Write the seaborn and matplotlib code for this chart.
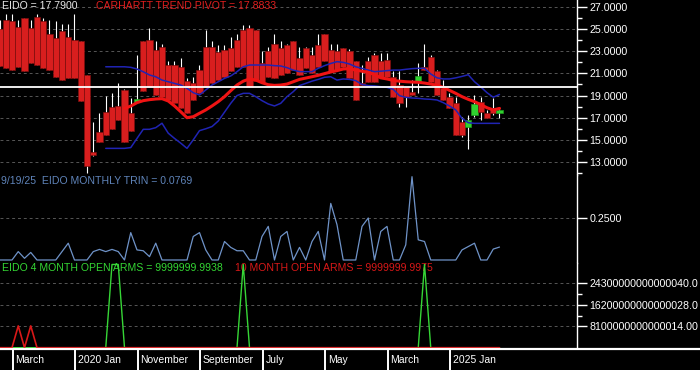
import matplotlib
matplotlib.use('Agg')
import matplotlib.pyplot as plt
import seaborn as sns

# monthly bars, month index 0 = Jan 2019 ... 80 = Sep 2025
months = list(range(81))
body_hi = [25.0, 25.8, 25.7, 25.2, 26.0, 25.1, 26.1, 25.7, 24.6, 24.2,
           24.8, 24.3, 24.0, 23.9, 20.9, 13.9, 15.7, 17.5, 18.0, 18.1,
           19.5, 17.4, 18.7, 23.9, 24.0, 23.1, 23.4, 21.8, 21.8, 21.6,
           20.3, 20.1, 21.3, 23.4, 23.4, 22.9, 23.1, 23.3, 24.0, 24.9,
           25.1, 24.9, 21.9, 23.0, 23.7, 23.3, 23.6, 23.9, 22.4, 23.3,
           22.7, 23.6, 24.6, 23.1, 23.0, 23.3, 23.0, 22.1, 20.1, 22.1,
           22.7, 22.1, 22.2, 20.7, 19.95, 19.8, 19.35, 20.8, 21.6, 22.5,
           21.2, 19.65, 18.9, 18.3, 16.65, 16.75, 18.2, 18.45, 17.4, 17.85,
           17.7]
body_lo = [21.7, 21.5, 21.3, 21.6, 21.2, 21.9, 21.8, 21.5, 21.3, 20.7,
           20.4, 20.6, 20.6, 18.5, 12.6, 13.6, 14.8, 15.4, 16.0, 16.8,
           14.8, 15.8, 18.45, 19.4, 19.8, 19.05, 18.9, 18.6, 18.3, 17.9,
           17.4, 18.6, 19.2, 19.8, 20.1, 20.4, 20.7, 21.2, 21.6, 21.6,
           19.8, 20.3, 20.25, 20.7, 20.6, 20.9, 21.0, 21.3, 20.9, 21.5,
           21.0, 21.6, 22.1, 21.2, 21.3, 21.6, 20.6, 18.6, 19.95, 20.25,
           20.25, 20.7, 20.7, 18.9, 18.3, 18.9, 19.05, 20.25, 21.3, 20.25,
           19.05, 18.6, 17.85, 15.45, 15.45, 16.2, 17.25, 17.55, 16.95, 17.4,
           17.4]
wick_hi = [25.8, 26.4, 26.4, 25.8, 26.0, 25.8, 26.4, 26.0, 25.8, 25.7,
           25.5, 25.5, 26.4, 23.9, 20.9, 16.6, 17.4, 19.0, 19.2, 20.1,
           19.6, 18.8, 22.7, 23.9, 25.1, 23.9, 23.7, 22.1, 22.1, 22.4,
           20.6, 20.7, 21.8, 24.9, 23.9, 23.6, 23.6, 24.3, 24.6, 25.4,
           25.4, 24.9, 23.0, 23.4, 24.6, 23.9, 23.7, 23.9, 23.4, 23.4,
           23.4, 24.6, 24.6, 23.7, 23.7, 23.3, 23.2, 22.1, 21.8, 22.5,
           22.8, 22.8, 22.8, 21.2, 21.2, 19.8, 20.4, 21.9, 23.7, 22.7,
           21.3, 20.4, 19.2, 18.9, 17.1, 17.25, 19.05, 18.9, 17.7, 18.75,
           17.95]
wick_lo = [21.7, 21.5, 21.3, 21.6, 21.2, 21.9, 21.8, 21.5, 21.3, 20.7,
           20.4, 20.6, 20.6, 18.5, 12.0, 13.5, 14.8, 15.4, 16.0, 16.8,
           14.8, 15.8, 18.45, 19.4, 19.8, 19.05, 18.9, 18.6, 18.3, 17.9,
           17.4, 18.6, 19.2, 19.8, 20.1, 20.4, 20.7, 21.2, 21.6, 21.6,
           19.8, 20.3, 20.25, 20.7, 20.6, 20.9, 21.0, 21.3, 20.9, 21.5,
           21.0, 21.6, 22.1, 21.2, 21.3, 21.6, 20.6, 18.6, 19.95, 20.25,
           20.25, 20.7, 20.7, 18.9, 18.0, 18.0, 19.05, 19.2, 21.3, 20.25,
           19.05, 18.6, 17.85, 15.45, 15.3, 14.2, 17.1, 16.8, 16.95, 17.25,
           16.95]
green_bars = [22, 67, 75, 76, 80]

band_months = list(range(17, 81))
upper_band = [21.6, 21.6, 21.6, 21.6, 21.55, 21.4, 21.15, 20.86, 20.7, 20.4,
              20.25, 20.1, 19.95, 19.65, 19.26, 19.05, 19.5, 19.95, 20.25, 20.55,
              20.77, 21.16, 21.6, 21.76, 21.76, 21.76, 21.76, 21.7, 21.67, 21.52,
              21.3, 21.16, 21.16, 21.16, 21.46, 21.7, 21.9, 22.06, 22.0, 21.85,
              21.6, 21.46, 21.3, 21.16, 21.2, 21.25, 21.3, 21.3, 21.37, 21.43,
              21.46, 21.46, 20.95, 20.6, 20.5, 20.5, 20.6, 20.73, 20.88, 20.25,
              19.78, 19.26, 18.85, 19.1]
lower_band = [14.23, 14.23, 14.23, 14.23, 14.3, 15.13, 15.95, 15.95, 16.1, 16.5,
              15.6, 15.13, 14.7, 14.23, 15.0, 15.83, 16.0, 16.2, 16.7, 17.5,
              18.3, 19.0, 19.2, 19.2, 18.9, 18.54, 18.24, 18.06, 18.3, 18.9,
              19.35, 19.9, 20.1, 20.3, 20.46, 20.65, 20.7, 20.4, 20.5, 20.46,
              20.35, 20.0, 19.9, 19.87, 19.8, 19.74, 19.56, 18.99, 18.84, 18.78,
              18.75, 18.69, 18.66, 18.6, 18.36, 18.06, 17.7, 16.94, 16.55, 16.49,
              16.49, 16.49, 16.49, 16.49]

pivot_months = list(range(20, 81))
trend_pivot = [17.84, 18.05, 18.36, 18.54, 18.63, 18.69, 18.72, 18.51, 18.06, 17.54,
               17.0, 17.09, 17.4, 17.7, 18.06, 18.45, 18.9, 19.44, 19.95, 20.3,
               20.5, 20.4, 20.16, 19.98, 19.92, 19.95, 20.04, 20.25, 20.46, 20.58,
               20.7, 20.83, 20.98, 21.13, 21.25, 21.4, 21.43, 21.3, 21.2, 21.1,
               20.89, 20.6, 20.5, 20.37, 20.3, 20.25, 20.22, 20.2, 20.13, 20.04,
               19.92, 19.74, 19.47, 19.2, 18.9, 18.66, 18.45, 18.18, 17.9, 17.7,
               17.84]
ref_level = 19.78

trin = [0, 0, 0, 0.05, 0.01, 0.045, 0, 0, 0, 0,
        0.05, 0.1, 0, 0, 0, 0.05, 0.063, 0.05, 0.063, 0.05,
        0, 0.163, 0.06, 0.055, 0.02, 0.1, 0, 0, 0, 0,
        0, 0.14, 0.163, 0.06, 0, 0, 0.11, 0.075, 0.055, 0.055,
        0, 0, 0.14, 0.2, 0, 0.14, 0.17, 0, 0.075, 0,
        0.11, 0.17, 0, 0.337, 0.21, 0, 0, 0, 0.2, 0.25,
        0, 0.17, 0.2, 0, 0, 0.09, 0.496, 0.12, 0.11, 0,
        0, 0, 0, 0, 0.06, 0.08, 0.1, 0, 0, 0.065,
        0.077]

open_arms_4 = [0.0] * 81
for m in [18, 19, 39, 68]:
    open_arms_4[m] = 3.145e16
open_arms_10 = [0.0] * 81
for m in [3, 5]:
    open_arms_10[m] = 8.25e15

price_ticks = [13, 15, 17, 19, 21, 23, 25, 27]
price_minor = [12, 14, 16, 18, 20, 22, 24, 26]
trin_ticks = [0.25]
arms_ticks = [8.1e15, 1.62e16, 2.43e16]
arms_labels = ['8100000000000014.00', '16200000000000028.0', '24300000000000040.0']
arms_minor = [1.215e16, 2.025e16]

x_labels = ['March', '2020 Jan', 'November', 'September', 'July', 'May', 'March', '2025 Jan']
x_label_months = [2, 12, 22, 32, 42, 52, 62, 72]

sns.set_theme(style='dark')
plt.rcParams['font.family'] = ['Liberation Sans', 'DejaVu Sans']

W, H = 700, 370
fig = plt.figure(figsize=(7, 3.7), dpi=100, facecolor='black')


def px_axes(top, bottom, left=0, right=577):
    return fig.add_axes([left / W, 1 - bottom / H, (right - left) / W, (bottom - top) / H])


ax_p = px_axes(0, 175)
ax_t = px_axes(175, 263)
ax_o = px_axes(263, 349)
ax_x = px_axes(349.3, 370, 0, 700)

grid_kw = dict(color='#565656', lw=0.7, ls=(0, (3, 3)), zorder=0.5)
for ax in (ax_p, ax_t, ax_o):
    ax.set_facecolor('black')
    ax.set_xlim(0.08, 92.4)
    ax.set_xticks([])
    ax.grid(False)
    for s in ('top', 'bottom', 'left'):
        ax.spines[s].set_visible(False)
    ax.spines['right'].set_color('white')
    ax.spines['right'].set_linewidth(1.0)
    ax.yaxis.tick_right()
    ax.tick_params(axis='y', which='major', colors='white', length=7.5, width=1,
                   pad=1.5, labelsize=7.7, right=True, left=False)
    ax.tick_params(axis='y', which='minor', colors='white', length=3.6, width=1,
                   right=True, left=False)
    ax.set_xlabel('')
    ax.set_ylabel('')

# price panel
ax_p.set_ylim(11.824, 27.632)
ax_p.set_yticks(price_ticks)
ax_p.set_yticklabels([f'{v:.4f}' for v in price_ticks])
ax_p.set_yticks(price_minor, minor=True)
for v in price_ticks:
    ax_p.axhline(v, **grid_kw)

ax_p.vlines(months, wick_lo, wick_hi, color='white', lw=0.8, zorder=1)
colors = ['#2fd12f' if m in green_bars else '#d81e1e' for m in months]
edges = ['#1f9a1f' if m in green_bars else '#7e0e0e' for m in months]
heights = [max(h - l, 0.18) for h, l in zip(body_hi, body_lo)]
ax_p.bar(months, heights, bottom=body_lo, width=1.0, color=colors,
         edgecolor=edges, linewidth=0.5, zorder=2)

sns.lineplot(x=band_months, y=upper_band, ax=ax_p, color='#2024b4', lw=1.1, zorder=3)
sns.lineplot(x=band_months, y=lower_band, ax=ax_p, color='#2024b4', lw=1.1, zorder=3)
sns.lineplot(x=pivot_months, y=trend_pivot, ax=ax_p, color='#f01414', lw=2.2, zorder=4)
ax_p.axhline(ref_level, color='white', lw=1.3, zorder=5)

ax_p.text(2 / 577, 1 - 6 / 175, 'EIDO = 17.7900', transform=ax_p.transAxes,
          color='#e6e6e6', fontsize=7.6, va='center', ha='left', zorder=6)
ax_p.text(96 / 577, 1 - 6 / 175, 'CARHARTT TREND PIVOT = 17.8833', transform=ax_p.transAxes,
          color='#e01e1e', fontsize=7.6, va='center', ha='left', zorder=6)

# TRIN panel
ax_t.set_ylim(-0.0179, 0.506)
ax_t.set_yticks(trin_ticks)
ax_t.set_yticklabels(['0.2500'])
ax_t.set_yticks([], minor=True)
for v in trin_ticks:
    ax_t.axhline(v, **grid_kw)
sns.lineplot(x=months, y=trin, ax=ax_t, color='#6f93c8', lw=0.9, zorder=3)
ax_t.text(1 / 577, 1 - 6 / 88, '9/19/25  EIDO MONTHLY TRIN = 0.0769', transform=ax_t.transAxes,
          color='#5f84ba', fontsize=7.6, va='center', ha='left', zorder=1)

# open arms panel
ax_o.set_ylim(-4.9e14, 3.2e16)
ax_o.set_yticks(arms_ticks)
ax_o.set_yticklabels(arms_labels)
ax_o.set_yticks(arms_minor, minor=True)
for v in arms_ticks:
    ax_o.axhline(v, **grid_kw)
sns.lineplot(x=months, y=open_arms_4, ax=ax_o, color='#36d636', lw=1.0, zorder=3)
sns.lineplot(x=months, y=open_arms_10, ax=ax_o, color='#d81818', lw=1.2, zorder=3.5)
ax_o.text(2 / 577, 1 - 5 / 86, 'EIDO 4 MONTH OPEN ARMS = 9999999.9938', transform=ax_o.transAxes,
          color='#34d634', fontsize=7.6, va='center', ha='left', zorder=1)
ax_o.text(235 / 577, 1 - 5 / 86, '10 MONTH OPEN ARMS = 9999999.9975', transform=ax_o.transAxes,
          color='#d81818', fontsize=7.6, va='center', ha='left', zorder=1)

# time axis strip
ax_x.set_facecolor('black')
ax_x.set_xlim(0.08, 112.08)
ax_x.set_ylim(0, 1)
ax_x.set_xticks([])
ax_x.set_yticks([])
ax_x.grid(False)
for s in ('bottom', 'left', 'right'):
    ax_x.spines[s].set_visible(False)
ax_x.spines['top'].set_color('white')
ax_x.spines['top'].set_linewidth(1.6)
ax_x.vlines([m + 0.1 for m in x_label_months], 0, 1, color='white', lw=1.4)
for m, lab in zip(x_label_months, x_labels):
    ax_x.text(m + 0.55, 0.47, lab, color='white', fontsize=7.5, va='center', ha='left')

fig.savefig('out.png', dpi=100, facecolor='black')
